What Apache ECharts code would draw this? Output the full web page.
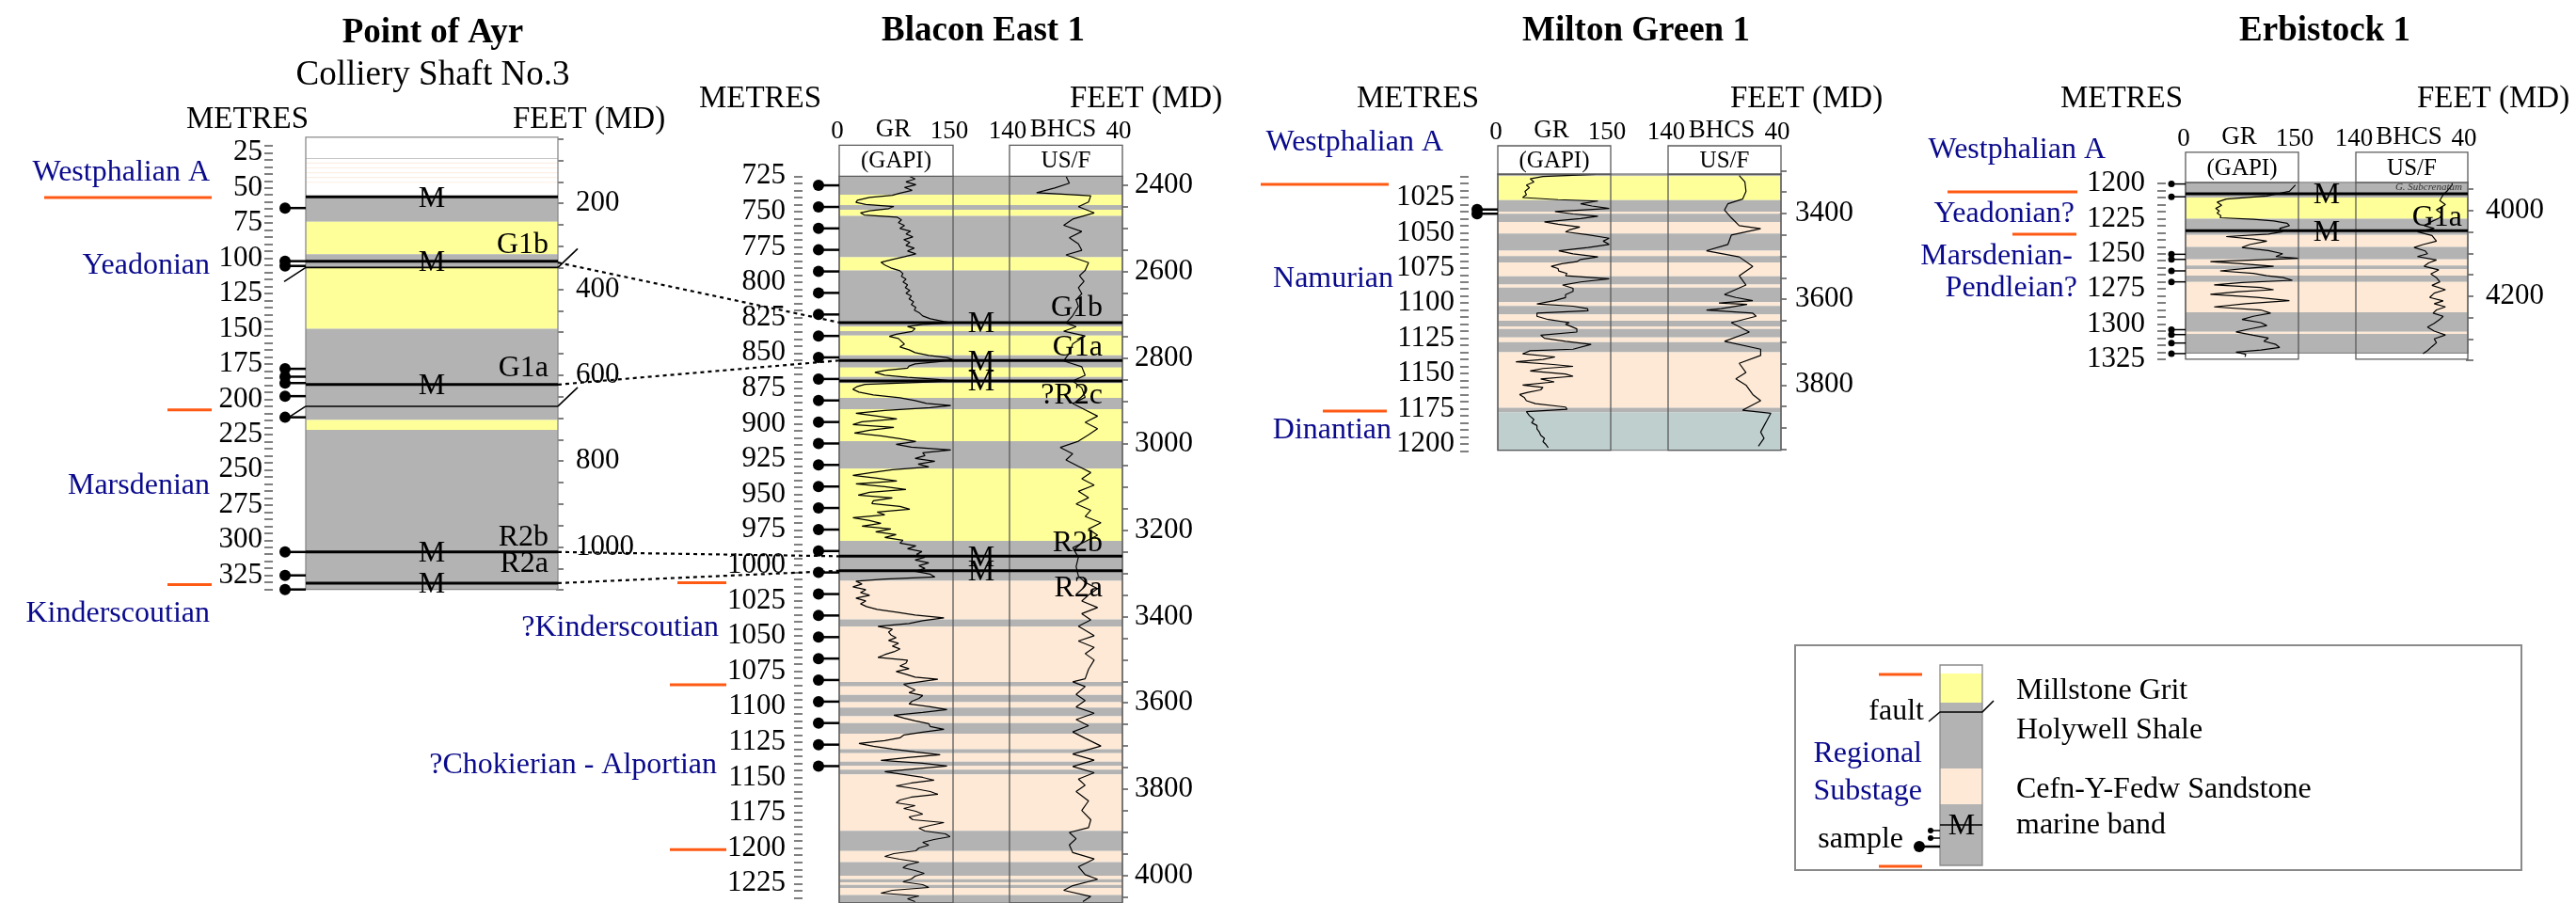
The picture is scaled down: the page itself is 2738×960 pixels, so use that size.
<!DOCTYPE html>
<html>
<head>
<meta charset="utf-8">
<title>Namurian well correlation</title>
<script src="https://cdn.jsdelivr.net/npm/echarts@6/dist/echarts.min.js"></script>
<style>
html,body{margin:0;padding:0;background:#ffffff;}
#chart{width:2738px;height:960px;}
</style>
</head>
<body>
<div id="chart"></div>
<script>
// ======================= DATA =======================
const wellTitles = ['Point of Ayr', 'Blacon East 1', 'Milton Green 1', 'Erbistock 1'];
const poaSubtitle = 'Colliery Shaft No.3';
const depthAxisTitle = 'METRES';
const feetAxisTitle = 'FEET (MD)';

// lithology intervals [top m, base m, code]
// W blank, Y Millstone Grit, G Holywell Shale, P Cefn-Y-Fedw Sandstone, D Dinantian, p faint sandstone streak
const poaBands = [
  [14,56.4,'W'],[28.9,29.5,'G'],[32,32.8,'p'],[35.4,36.2,'p'],[38.8,39.6,'p'],[42.2,43,'p'],[45.6,46.4,'p'],
  [56.4,74,'G'],[74,97,'Y'],[97,106.5,'G'],[106.5,149.9,'Y'],[149.9,214.8,'G'],[214.8,221.7,'Y'],[221.7,335,'G']
];
const blaconBands = [
  [725,738.2,'G'],[738.2,745.5,'Y'],[745.5,748.8,'G'],[748.8,753.2,'Y'],[753.2,782.5,'G'],[782.5,791.7,'Y'],
  [791.7,831.4,'G'],[831.4,834.7,'Y'],[834.7,838,'G'],[838,851.9,'Y'],[851.9,860.6,'G'],[860.6,867.2,'Y'],
  [867.2,871.7,'G'],[871.7,882.1,'Y'],[882.1,890.1,'G'],[890.1,912.8,'Y'],[912.8,932.3,'G'],[932.3,983.4,'Y'],
  [983.4,1011.7,'G'],[1011.7,1039,'P'],[1039,1044,'G'],[1044,1083.3,'P'],[1083.3,1086.6,'G'],[1086.6,1092.6,'P'],
  [1092.6,1097.7,'G'],[1097.7,1101.5,'P'],[1101.5,1107.7,'G'],[1107.7,1112.6,'P'],[1112.6,1120,'G'],[1120,1131.1,'P'],
  [1131.1,1133.9,'G'],[1133.9,1139.9,'P'],[1139.9,1142.8,'G'],[1142.8,1145.5,'P'],[1145.5,1148.8,'G'],[1148.8,1188.8,'P'],
  [1188.8,1203.2,'G'],[1203.2,1211,'P'],[1211,1220.6,'G'],[1220.6,1223.2,'P'],[1223.2,1225.4,'G'],[1225.4,1227.2,'P'],
  [1227.2,1229.4,'G'],[1229.4,1234.3,'P'],[1234.3,1240,'G']
];
const miltonBands = [
  [1008.3,1009.8,'G'],[1009.8,1026.8,'Y'],[1026.8,1035,'G'],[1035,1036.6,'P'],[1036.6,1042.3,'G'],[1042.3,1050.6,'P'],
  [1050.6,1062.8,'G'],[1062.8,1066.6,'P'],[1066.6,1071.2,'G'],[1071.2,1081,'P'],[1081,1086.8,'G'],[1086.8,1089,'P'],
  [1089,1099.4,'G'],[1099.4,1102,'P'],[1102,1108,'G'],[1108,1112.6,'P'],[1112.6,1116.6,'G'],[1116.6,1118.4,'P'],
  [1118.4,1124.4,'G'],[1124.4,1127.8,'P'],[1127.8,1134.9,'G'],[1134.9,1174.4,'P'],[1174.4,1177.8,'G'],[1177.8,1204.5,'D']
];
const erbBands = [
  [1199.3,1210,'G'],[1210,1225.1,'Y'],[1225.1,1236.7,'G'],[1236.7,1245.1,'P'],[1245.1,1254,'G'],[1254,1258.4,'P'],
  [1258.4,1261.1,'G'],[1261.1,1265.6,'P'],[1265.6,1270,'G'],[1270,1291.6,'P'],[1291.6,1305.6,'G'],[1305.6,1307.1,'P'],
  [1307.1,1320.7,'G']
];

// marine bands (depth m) and their names
const poaMarine = [56.4, 102, 189.6, 308.4, 330.5];
const poaMarineNames = ['', 'G1b', 'G1a', 'R2b', 'R2a'];
const blaconMarine = [828.7, 855.6, 870.1, 994.3, 1004.6];
const blaconMarineNames = ['G1b', 'G1a', '?R2c', 'R2b', 'R2a'];
const erbMarine = [1207.3, 1233.6];
const erbMarineNames = ['G. Subcrenatum', 'G1a'];

// faults (depth m)
const poaFaults = [106.5, 205];

// samples (depth m)
const poaSamples = [64.3, 102, 105.4, 178.4, 184, 188.5, 197.8, 212.8, 308.4, 325, 335];
const blaconSamples = [731.5, 746.8, 762.0, 777.2, 792.5, 807.7, 823.0, 838.2, 853.4, 868.7, 883.9, 899.2, 914.4, 929.6,
  944.9, 960.1, 975.4, 990.6, 1005.8, 1021.1, 1036.3, 1051.6, 1066.8, 1082.0, 1097.3, 1112.5, 1127.8, 1143.0];
const miltonSamples = [1033.5, 1036.5];
const erbSamples = [1200.4, 1209.5, 1250.4, 1254, 1262.2, 1270, 1304, 1307.5, 1313.5, 1321];

// regional substages: names, label depths, boundary depths
const poaStages = ['Westphalian A', 'Yeadonian', 'Marsdenian', 'Kinderscoutian'];
const poaStageDepths = [38.9, 105.5, 261.5, 352];
const poaBoundaries = [56.8, 207.5, 331.5];
const blaconStages = ['?Kinderscoutian', '?Chokierian - Alportian'];
const blaconStageDepths = [1045.3, 1142.3];
const blaconBoundaries = [1013, 1085.4, 1202.2];
const miltonStages = ['Westphalian A', 'Namurian', 'Dinantian'];
const miltonStageDepths = [986.2, 1083.2, 1190.8];
const miltonBoundaries = [1015.6, 1176.7];
const erbStages = ['Westphalian A', 'Yeadonian?', 'Marsdenian-', 'Pendleian?'];
const erbStageDepths = [1176.6, 1222, 1252, 1274.9];
const erbBoundaries = [1206, 1236.1];

// correlation of marine bands Point of Ayr -> Blacon East 1
const corrPoa = [103, 189.6, 308.4, 330.5];
const corrBlacon = [828.7, 855.6, 994.3, 1004.6];

// log tracks: scale ranges and header texts
const grRange = [0, 150];
const bhcsRange = [40, 140];
const grName = 'GR', grUnit = '(GAPI)';
const bhcsName = 'BHCS', bhcsUnit = 'US/F';

// depth axes (m) and feet axes (ft)
const poaMetreTicks = [20, 335], poaFeetTicks = [50, 1100];
const blaconMetreTicks = [725, 1235], blaconFeetTicks = [2400, 4050];
const miltonMetreTicks = [1010, 1205], miltonFeetTicks = [3300, 3950];
const erbMetreTicks = [1200, 1325], erbFeetTicks = [3950, 4350];
const metreLabelStep = 25, feetLabelStep = 200;

// gamma ray and sonic logs [depth m, value]
const blaconGR = [
 [725,92],[727,100],[729,88],[731,101],[733,86],[735,96],[737,80],[738.5,70],[740,40],[742,24],[743.5,22],[745,35],
 [746.5,72],[748,65],[749.5,40],[751,28],[752.5,33],[754,76],[756,82],[758,78],[760,86],[762,80],[764,94],[766,88],
 [768,97],[770,85],[772,93],[774,88],[776,99],[778,90],[780,101],[782,86],[784,70],[786,55],[788,60],[790,68],
 [792,80],[794,84],[796,82],[798,88],[800,84],[802,90],[804,87],[806,93],[808,88],[810,95],[812,92],[814,98],
 [816,95],[818,101],[820,99],[822,106],[824,110],[826,120],[828,138],[829,150],[830,110],[831.5,90],[833,100],
 [835,96],[837,75],[838.5,66],[840,78],[842,82],[844,86],[846,80],[848,92],[850,100],[852,118],[853.5,142],
 [855,150],[856.5,130],[858,100],[859.5,92],[861,90],[862.5,62],[864,47],[866,60],[867.5,90],[869,130],[870,148],
 [871,110],[872.5,34],[874,24],[876,18],[878,26],[880,45],[882,80],[884,100],[886,115],[887.5,147],[889,120],
 [891,60],[893,22],[895,50],[897,76],[899,30],[901,18],[903,72],[905,40],[907,20],[909,55],[911,80],[913,101],
 [915,75],[917,95],[919,147],[921,110],[923,113],[925,100],[927,126],[929,104],[931,118],[933,70],[935,43],
 [937,18],[939,50],[941,76],[943,22],[945,60],[947,88],[949,40],[951,25],[953,70],[955,45],[957,43],[959,80],
 [961,93],[963,50],[965,60],[967,18],[969,40],[971,55],[973,30],[975,68],[977,48],[979,75],[981,60],[983,84],
 [985,80],[987,101],[989,90],[991,109],[993,102],[995,113],[997,100],[999,118],[1001,105],[1003,113],[1005,100],
 [1007,120],[1009,126],[1010.5,60],[1012,22],[1014,30],[1016,18],[1018,35],[1020,28],[1022,40],[1024,22],
 [1026,35],[1028,28],[1030,36],[1032,50],[1034,76],[1036,100],[1038,138],[1040,110],[1042,92],[1044,51],
 [1046,70],[1048,65],[1050,68],[1052,75],[1054,65],[1056,78],[1058,70],[1060,80],[1062,72],[1064,60],[1066,51],
 [1068,90],[1070,88],[1072,80],[1074,92],[1076,75],[1078,88],[1080,100],[1081.5,130],[1083,110],[1085,85],
 [1087,92],[1089,100],[1091,92],[1093,110],[1095,105],[1097,96],[1099,92],[1101,120],[1103,142],[1105,110],
 [1107,72],[1109,85],[1111,100],[1113,118],[1115,120],[1117,138],[1119,110],[1121,85],[1123,80],[1125,60],
 [1127,26],[1129,45],[1131,70],[1133,100],[1135,133],[1137,90],[1139,55],[1141,110],[1143,142],[1145,100],
 [1147,60],[1149,85],[1151,110],[1153,125],[1155,95],[1157,75],[1159,100],[1161,120],[1163,130],[1165,95],
 [1167,80],[1169,75],[1171,100],[1173,85],[1175,101],[1177,110],[1179,92],[1181,97],[1183,138],[1185,120],
 [1187,105],[1189,113],[1191,140],[1193,146],[1195,125],[1197,110],[1199,118],[1201,105],[1203,101],[1205,72],
 [1207,60],[1209,80],[1211,105],[1213,90],[1215,84],[1217,100],[1219,112],[1221,100],[1223,95],[1225,84],
 [1227,110],[1229,118],[1231,70],[1233,55],[1235,105],[1237,90],[1239,100]
];
const blaconBHCS = [
 [725,90],[730,87],[733.4,100],[736.7,116],[738.9,68],[743.3,70],[746.6,79],[751,65],[755.4,84],[759.8,92],
 [764.2,76],[768.6,87],[773,79],[777.5,76],[780.8,90],[786.3,70],[791.8,73],[795.5,78],[799.5,74],[804,79],
 [808.3,76],[812.5,81],[817.2,79],[823.8,84],[829,90],[831.6,81],[834.9,92],[838.2,73],[843.8,84],[850.4,87],
 [855.9,92],[860,76],[866.1,73],[870.1,84],[875,76],[881.7,73],[886.1,84],[890.6,73],[895,62],[899.4,73],
 [903.9,62],[908.3,70],[912.8,79],[917.2,95],[921.7,84],[926.1,90],[930.6,79],[935,68],[939.4,76],[943.9,65],
 [948.3,79],[952.8,70],[957.2,81],[961.7,68],[966.1,73],[970.6,59],[975,70],[979.4,62],[983.9,73],[988.3,84],
 [995,79],[1001.7,81],[1008.3,79],[1012.8,73],[1017.2,62],[1021.7,70],[1026.1,76],[1030.6,62],[1035,76],
 [1039.4,68],[1043.9,79],[1050.6,65],[1054.4,79],[1058.9,65],[1063.3,73],[1067.8,65],[1074.4,70],[1081.1,73],
 [1083.3,84],[1086.6,73],[1092.2,81],[1096.6,73],[1101.1,81],[1105.5,65],[1110,81],[1114.4,70],[1118.8,84],
 [1123.3,73],[1128.8,59],[1134.4,84],[1138.8,65],[1143.3,84],[1147.7,65],[1152.2,79],[1156.6,73],[1161,81],
 [1167.7,70],[1174.4,76],[1181,68],[1186.6,70],[1190,87],[1194.4,81],[1198.8,87],[1204.3,84],[1208.8,65],
 [1214.3,79],[1219.9,73],[1223.2,62],[1227.7,84],[1231,92],[1235.4,68],[1239,75]
];
const miltonGR = [
 [1008.5,130],[1010,60],[1011.7,43],[1014,48],[1016.1,38],[1018,42],[1020.6,36],[1023,38],[1025,33],[1026.5,80],
 [1027.5,133],[1029.4,110],[1031,125],[1032.8,148],[1035,76],[1036.7,100],[1038.3,133],[1040,110],[1042.3,62],
 [1044,80],[1046,109],[1048,95],[1049.4,90],[1051.5,120],[1053.9,148],[1056,140],[1058.3,148],[1060.5,120],
 [1062.8,81],[1065,100],[1067.2,133],[1069,110],[1070.6,105],[1072,85],[1073.9,71],[1075.5,80],[1077.2,81],
 [1079,92],[1080.6,90],[1082.8,148],[1085,110],[1087.2,86],[1089.5,100],[1091.7,100],[1094,90],[1096.1,90],
 [1098.3,75],[1100.6,52],[1102.2,100],[1103.9,119],[1105.5,120],[1107.2,52],[1109.4,52],[1111.7,67],[1113.9,95],
 [1115,90],[1118.3,105],[1120.6,105],[1122.8,57],[1125,62],[1127.2,90],[1129.4,124],[1130.5,124],[1132.8,100],
 [1133.9,43],[1136.1,33],[1138.3,76],[1140,60],[1141.7,24],[1143.5,70],[1145,100],[1146.5,60],[1148.3,43],
 [1150.4,90],[1152,100],[1153.9,57],[1156,75],[1158.3,33],[1160,60],[1161.7,57],[1163.5,40],[1165,29],[1167,35],
 [1169.4,38],[1171.5,50],[1173.9,90],[1175.5,92],[1177.2,38],[1180,42],[1182.8,48],[1185,45],[1187,52],
 [1189.4,52],[1191.5,55],[1194,57],[1196.1,62],[1198.5,60],[1200.5,64],[1202.8,67]
];
const miltonBHCS = [
 [1009.4,77],[1013.9,72],[1020.6,71],[1026.1,74],[1029.4,87],[1033.9,90],[1039.4,84],[1045,77],[1047.2,58],
 [1051.7,84],[1058.3,87],[1062.8,106],[1067.2,77],[1073.9,65],[1080.6,77],[1087.2,71],[1093.9,90],[1096,80],
 [1098.3,65],[1100,95],[1101,70],[1103.9,93],[1105,106],[1107.2,65],[1109.4,62],[1113.9,84],[1120.6,68],
 [1127.2,90],[1132.8,58],[1137.2,58],[1142.8,77],[1149.4,71],[1153.9,80],[1158.3,71],[1165,65],[1169.4,58],
 [1176.1,74],[1178.3,49],[1182.8,52],[1187.2,55],[1191.7,58],[1196.1,55],[1201.7,60]
];
const erbGR = [
 [1201.1,146],[1205.6,138],[1208.9,108],[1211.1,54],[1213.3,42],[1215.5,48],[1217.8,40],[1219.5,45],[1221.1,42],
 [1223,47],[1224.4,46],[1225.5,90],[1226.7,117],[1228.3,135],[1230,138],[1232,125],[1234.4,129],[1236,110],
 [1237.8,54],[1239.5,90],[1241.1,108],[1243.5,85],[1245.6,75],[1247.8,110],[1250,129],[1252,120],[1253.3,150],
 [1255.6,33],[1257,70],[1258.9,117],[1260.5,80],[1262.2,46],[1264,90],[1265.6,108],[1267,130],[1268.9,142],
 [1270.5,75],[1272.2,38],[1274,100],[1275.6,117],[1277,70],[1278.9,33],[1281,95],[1283.3,138],[1285.5,80],
 [1287.8,38],[1290,100],[1292.2,113],[1294.5,90],[1296.7,75],[1299,100],[1301.1,108],[1303.5,85],[1305.6,67],
 [1308,90],[1310,110],[1312.2,104],[1314.5,120],[1316.7,125],[1318.5,100],[1320,67],[1321.5,80],[1323.3,79]
];
const erbBHCS = [
 [1199.5,54],[1201.1,54],[1205,58],[1208,62],[1212.2,65],[1215,60],[1218.9,68],[1221.5,63],[1224.4,65],[1227,72],
 [1230,79],[1232,70],[1234.4,85],[1237,72],[1241.1,68],[1243.5,80],[1245.6,88],[1248,78],[1250,76],[1252,85],
 [1254.4,68],[1256.5,75],[1258.9,79],[1261.5,66],[1264.4,73],[1267,68],[1270,65],[1272.5,72],[1275.6,60],
 [1278,70],[1281.1,74],[1283.5,62],[1285.5,70],[1287.8,60],[1290,68],[1292.2,71],[1294.5,62],[1296.7,65],
 [1299.5,70],[1302.2,76],[1305,70],[1307.8,60],[1310.5,70],[1313.3,68],[1316,72],[1318.9,76],[1321,80]
];

// legend entries
const legendLithNames = ['Millstone Grit', 'Holywell Shale', 'Cefn-Y-Fedw Sandstone', 'marine band'];
const legendSymbolNames = ['fault', 'Regional', 'Substage', 'sample'];

// ======================= STYLE / LAYOUT =======================
const FONT = '"Liberation Serif","Times New Roman",Times,serif';
const LITH = {W:'#ffffff', Y:'#ffff99', G:'#b3b3b3', P:'#fde9d5', D:'#bfcfce', p:'#fdeee3'};
const NAVY = '#0a0a8c', ORANGE = '#ff5a14', BORDER = '#5a5a5a';
const FT2M = 0.3048;

const wells = [
  { key:'poa', title:wellTitles[0], k:1.498, mRef:25, yRef:162.3, col:[325,593], span:[14,335],
    bands:poaBands, marine:poaMarine, marineNames:poaMarineNames, mTextOff:134, mLabelPad:10,
    mLabelDy:[-17,-17,-17,-15,-20], faults:poaFaults, samples:poaSamples, sampleDx:22, sampleR:6,
    stages:poaStages, stageDepths:poaStageDepths, stageRight:[102,102,102,102],
    bounds:poaBoundaries, boundX:[[278,100],[147,100],[147,100]],
    mTicks:poaMetreTicks, axisX:290, mMargin:11, fTicks:poaFeetTicks, fMargin:19,
    titleXY:[460,35], metresXY:[263,127], feetXY:[626,127] },
  { key:'blacon', title:wellTitles[1], k:1.504, mRef:725, yRef:187.3, col:[892,1193], span:[725,1240],
    tracks:[[892,1013],[1073,1193]], headH:33, logs:[blaconGR, blaconBHCS],
    bands:blaconBands, marine:blaconMarine, marineNames:blaconMarineNames, mTextOff:151, mLabelPad:21,
    mLabelDy:[-15,-14,16,-14,19], samples:blaconSamples, sampleDx:22, sampleR:6,
    stages:blaconStages, stageDepths:blaconStageDepths, stageRight:[128,130],
    bounds:blaconBoundaries, boundX:[[172,120],[180,120],[180,120]],
    mTicks:blaconMetreTicks, axisX:853, mMargin:18, fTicks:blaconFeetTicks, fMargin:13,
    titleXY:[1045,33], metresXY:[808,105], feetXY:[1218,105] },
  { key:'milton', title:wellTitles[2], k:1.496, mRef:1025, yRef:210, col:[1592,1893], span:[1008.3,1204.5],
    tracks:[[1592,1712],[1773,1893]], headH:30, logs:[miltonGR, miltonBHCS],
    bands:miltonBands, marine:[], marineNames:[], samples:miltonSamples, sampleDx:22, sampleR:6,
    stages:miltonStages, stageDepths:miltonStageDepths, stageRight:[58,111,113],
    bounds:miltonBoundaries, boundX:[[252,116],[186,118]],
    mTicks:miltonMetreTicks, axisX:1561, mMargin:15, fTicks:miltonFeetTicks, fMargin:15,
    titleXY:[1739,33], metresXY:[1507,105], feetXY:[1920,105] },
  { key:'erb', title:wellTitles[3], k:1.495, mRef:1200, yRef:195, col:[2323,2623], span:[1199.3,1325], litBot:1320.7,
    tracks:[[2323,2443],[2504,2623]], headH:32, logs:[erbGR, erbBHCS],
    bands:erbBands, marine:erbMarine, marineNames:erbMarineNames, mTextOff:150, mLabelPad:6,
    mLabelDy:[-7,-14], mLabelFont:['italic 11px '+FONT, null], samples:erbSamples, sampleDx:15, sampleR:3.5,
    stages:erbStages, stageDepths:erbStageDepths, stageRight:[85,118,120,115],
    bounds:erbBoundaries, boundX:[[253,115],[184,116]],
    mTicks:erbMetreTicks, axisX:2302, mMargin:22, fTicks:erbFeetTicks, fMargin:19,
    titleXY:[2471,33], metresXY:[2255,105], feetXY:[2650,105] }
];
const trackDefs = [
  {range:grRange, inverse:false, name:grName, unit:grUnit},
  {range:bhcsRange, inverse:true, name:bhcsName, unit:bhcsUnit}
];

// ======================= BUILD =======================
const chart = echarts.init(document.getElementById('chart'), null, {renderer:'canvas', width:2738, height:960});
const opt = {animation:false, backgroundColor:'#ffffff', grid:[], xAxis:[], yAxis:[], series:[], graphic:[]};

function txt(x, y, text, font, fill, align, valign) {
  return {type:'text', x:x, y:y, z:10, silent:true,
    style:{text:text, font:font, fill:fill || '#000', align:align || 'center', verticalAlign:valign || 'middle',
           textAlign:align || 'center', textVerticalAlign:valign || 'middle'}};
}
function seg(x1, y1, x2, y2, stroke, w, dash) {
  return {type:'line', silent:true, shape:{x1:x1, y1:y1, x2:x2, y2:y2},
    style:{stroke:stroke, lineWidth:w, lineDash:dash || null}};
}
function addGrid(x0, x1, y0, y1, xa, ya) {
  const gi = opt.grid.length;
  opt.grid.push({left:x0, top:y0, width:x1 - x0, height:y1 - y0, show:false, containLabel:false});
  opt.xAxis.push(Object.assign({type:'value', gridIndex:gi, show:false, min:0, max:1}, xa || {}));
  opt.yAxis.push(Object.assign({type:'value', gridIndex:gi, show:false, inverse:true}, ya || {}));
  return gi;
}
function isMult(v, s) { return Math.abs(v / s - Math.round(v / s)) < 1e-6; }
function custom(gi, data, render, z, clip) {
  opt.series.push({type:'custom', xAxisIndex:gi, yAxisIndex:gi, data:data, renderItem:render,
    z:z, silent:true, clip:!!clip, animation:false});
}

wells.forEach(w => {
  const Y = m => w.yRef + w.k * (m - w.mRef);
  const litBot = w.litBot || w.span[1];
  // lithology column
  const cg = addGrid(w.col[0], w.col[1], Y(w.span[0]), Y(litBot), {min:0, max:1}, {min:w.span[0], max:litBot});
  w.cg = cg;
  custom(cg, w.bands.map(b => [0, b[0], b[1]]), (p, api) => {
    const b = w.bands[p.dataIndex];
    const a = api.coord([0, b[0]]), c = api.coord([1, b[1]]);
    return {type:'rect', shape:{x:a[0], y:a[1], width:c[0] - a[0], height:Math.max(c[1] - a[1], 0.8)},
            style:{fill:LITH[b[2]]}};
  }, 1, true);
  // column outline
  custom(cg, [[0, w.span[0]]], (p) => {
    const cs = p.coordSys;
    return {type:'rect', shape:{x:cs.x, y:cs.y, width:cs.width, height:cs.height},
            style:{fill:null, stroke:'#8a8a8a', lineWidth:1.3}};
  }, 3, false);

  // metres axis
  addGrid(w.axisX, w.axisX + 2, Y(w.mTicks[0]), Y(w.mTicks[1]), {min:0, max:1},
    {min:w.mTicks[0], max:w.mTicks[1], interval:5, show:true, position:'left',
     axisLine:{show:false}, splitLine:{show:false},
     axisTick:{show:true, length:9, lineStyle:{color:'#555', width:1.5}},
     axisLabel:{show:true, margin:w.mMargin, fontSize:31, fontFamily:FONT, color:'#000',
       formatter: v => isMult(v, metreLabelStep) ? String(Math.round(v)) : ''}});
  // feet axis
  addGrid(w.col[1] - 2, w.col[1], Y(w.fTicks[0] * FT2M), Y(w.fTicks[1] * FT2M), {min:0, max:1},
    {min:w.fTicks[0], max:w.fTicks[1], interval:50, show:true, position:'right',
     axisLine:{show:false}, splitLine:{show:false},
     axisTick:{show:true, length:8, lineStyle:{color:'#555', width:1.5}},
     axisLabel:{show:true, margin:w.fMargin, fontSize:31, fontFamily:FONT, color:'#000',
       formatter: v => isMult(v, feetLabelStep) ? String(Math.round(v)) : ''}});

  // log tracks
  (w.tracks || []).forEach((tr, i) => {
    const td = trackDefs[i];
    const g = addGrid(tr[0], tr[1], Y(w.span[0]), Y(w.span[1]),
      {min:td.range[0], max:td.range[1], inverse:td.inverse}, {min:w.span[0], max:w.span[1]});
    opt.series.push({type:'line', xAxisIndex:g, yAxisIndex:g, data:w.logs[i].map(d => [d[1], d[0]]),
      showSymbol:false, symbol:'none', lineStyle:{color:'#000', width:1.2}, z:4, silent:true, clip:true, animation:false});
    const leftLab = String(td.inverse ? td.range[1] : td.range[0]);
    const rightLab = String(td.inverse ? td.range[0] : td.range[1]);
    custom(g, [[td.range[0], w.span[0]]], (p) => {
      const cs = p.coordSys, hh = w.headH, top = cs.y - hh;
      return {type:'group', children:[
        {type:'rect', shape:{x:cs.x, y:cs.y, width:cs.width, height:cs.height}, style:{fill:null, stroke:BORDER, lineWidth:1.3}},
        {type:'rect', shape:{x:cs.x, y:top, width:cs.width, height:hh}, style:{fill:'#fff', stroke:BORDER, lineWidth:1.3}},
        txt(cs.x - 2, top - 14, leftLab, '27px ' + FONT),
        txt(cs.x + cs.width - 4, top - 14, rightLab, '27px ' + FONT),
        txt(cs.x + cs.width / 2 - 3, top - 16, td.name, '27px ' + FONT),
        txt(cs.x + cs.width / 2, top + hh / 2 + 1, td.unit, '25px ' + FONT)
      ]};
    }, 5, false);
  });

  // marine bands
  custom(cg, w.marine.map(d => [0, d]), (p, api) => {
    const i = p.dataIndex, d = w.marine[i];
    const a = api.coord([0, d]), b = api.coord([1, d]);
    const ch = [seg(a[0], a[1], b[0], b[1], '#000', 3), txt(a[0] + w.mTextOff, a[1] + 2, 'M', '32px ' + FONT)];
    const nm = w.marineNames[i];
    if (nm) {
      const f = (w.mLabelFont && w.mLabelFont[i]) || ('32px ' + FONT);
      const fill = (w.mLabelFont && w.mLabelFont[i]) ? '#333' : '#000';
      ch.push(txt(b[0] - w.mLabelPad, a[1] + w.mLabelDy[i], nm, f, fill, 'right', 'middle'));
    }
    return {type:'group', children:ch};
  }, 6, false);

  // faults
  if (w.faults) {
    custom(cg, w.faults.map(d => [0, d]), (p, api) => {
      const d = w.faults[p.dataIndex];
      const a = api.coord([0, d]), b = api.coord([1, d]);
      return {type:'group', children:[
        seg(a[0], a[1], b[0], b[1], '#000', 1.6),
        seg(a[0], a[1], a[0] - 23, a[1] + 15, '#000', 1.6),
        seg(b[0], b[1], b[0] + 21, b[1] - 20, '#000', 1.6)
      ]};
    }, 6, false);
  }

  // samples
  custom(cg, w.samples.map(d => [0, d]), (p, api) => {
    const a = api.coord([0, w.samples[p.dataIndex]]);
    return {type:'group', children:[
      seg(a[0] - w.sampleDx, a[1], a[0], a[1], '#000', w.sampleR > 4 ? 2.5 : 1.5),
      {type:'circle', shape:{cx:a[0] - w.sampleDx, cy:a[1], r:w.sampleR}, style:{fill:'#000'}}
    ]};
  }, 6, false);

  // substage labels
  custom(cg, w.stageDepths.map(d => [0, d]), (p, api) => {
    const a = api.coord([0, w.stageDepths[p.dataIndex]]);
    return txt(a[0] - w.stageRight[p.dataIndex], a[1], w.stages[p.dataIndex], '32px ' + FONT, NAVY, 'right', 'middle');
  }, 6, false);
  custom(cg, w.bounds.map(d => [0, d]), (p, api) => {
    const a = api.coord([0, w.bounds[p.dataIndex]]);
    const bx = w.boundX[p.dataIndex];
    return seg(a[0] - bx[0], a[1], a[0] - bx[1], a[1], ORANGE, 3);
  }, 6, false);

  // titles
  opt.graphic.push(txt(w.titleXY[0], w.titleXY[1], w.title, 'bold 37px ' + FONT));
  opt.graphic.push(txt(w.metresXY[0], w.metresXY[1], depthAxisTitle, '33px ' + FONT));
  opt.graphic.push(txt(w.feetXY[0], w.feetXY[1], feetAxisTitle, '33px ' + FONT));
});
opt.graphic.push(txt(460, 80, poaSubtitle, '37px ' + FONT));

// legend
(function () {
  const G = opt.graphic;
  const cx = 2062, cw = 45;
  G.push({type:'rect', silent:true, shape:{x:1908, y:686, width:772, height:239}, style:{fill:'#fff', stroke:'#8a8a8a', lineWidth:2}, z:1});
  [[707,9,'W'],[716,31,'Y'],[747,70,'G'],[817,38,'P'],[855,65,'G']].forEach(r => {
    G.push({type:'rect', silent:true, shape:{x:cx, y:r[0], width:cw, height:r[1]}, style:{fill:LITH[r[2]]}, z:2});
  });
  G.push({type:'rect', silent:true, shape:{x:cx, y:707, width:cw, height:213}, style:{fill:null, stroke:'#8a8a8a', lineWidth:1.3}, z:3});
  G.push({type:'polyline', silent:true, shape:{points:[[2050,767],[cx,757],[cx+cw,757],[2119,745]]}, style:{fill:null, stroke:'#000', lineWidth:1.6}, z:4});
  G.push(Object.assign(seg(cx, 877, cx + cw, 877, '#000', 1.5), {z:4}));
  G.push(txt(2085, 879, 'M', '32px ' + FONT));
  G.push(Object.assign(seg(1997, 717, 2043, 717, ORANGE, 3), {z:4}));
  G.push(Object.assign(seg(1997, 921, 2043, 921, ORANGE, 3), {z:4}));
  G.push(txt(2045, 757, legendSymbolNames[0], '32px ' + FONT, '#000', 'right'));
  G.push(txt(2043, 802, legendSymbolNames[1], '32px ' + FONT, NAVY, 'right'));
  G.push(txt(2043, 842, legendSymbolNames[2], '32px ' + FONT, NAVY, 'right'));
  G.push(txt(2023, 893, legendSymbolNames[3], '32px ' + FONT, '#000', 'right'));
  G.push(Object.assign(seg(2040, 900, cx, 900, '#000', 2.5), {z:4}));
  G.push({type:'circle', silent:true, shape:{cx:2040, cy:900, r:6}, style:{fill:'#000'}, z:5});
  G.push(Object.assign(seg(2052, 883, cx, 883, '#000', 1.5), {z:4}));
  G.push(Object.assign(seg(2052, 891, cx, 891, '#000', 1.5), {z:4}));
  G.push({type:'circle', silent:true, shape:{cx:2052, cy:883, r:3}, style:{fill:'#000'}, z:5});
  G.push({type:'circle', silent:true, shape:{cx:2052, cy:891, r:3}, style:{fill:'#000'}, z:5});
  G.push(txt(2143, 735, legendLithNames[0], '32px ' + FONT, '#000', 'left'));
  G.push(txt(2143, 777, legendLithNames[1], '32px ' + FONT, '#000', 'left'));
  G.push(txt(2143, 840, legendLithNames[2], '32px ' + FONT, '#000', 'left'));
  G.push(txt(2143, 878, legendLithNames[3], '32px ' + FONT, '#000', 'left'));
})();

chart.setOption(opt);

// dotted correlation lines between Point of Ayr and Blacon East 1
const poaW = wells[0], blaconW = wells[1];
corrPoa.forEach((d, i) => {
  const a = chart.convertToPixel({gridIndex:poaW.cg}, [1, d]);
  const b = chart.convertToPixel({gridIndex:blaconW.cg}, [0, corrBlacon[i]]);
  opt.graphic.push(Object.assign(seg(a[0], a[1], b[0], b[1], '#000', 2.2, [4, 4]), {z:50}));
});
chart.setOption(opt, true);
</script>
</body>
</html>
